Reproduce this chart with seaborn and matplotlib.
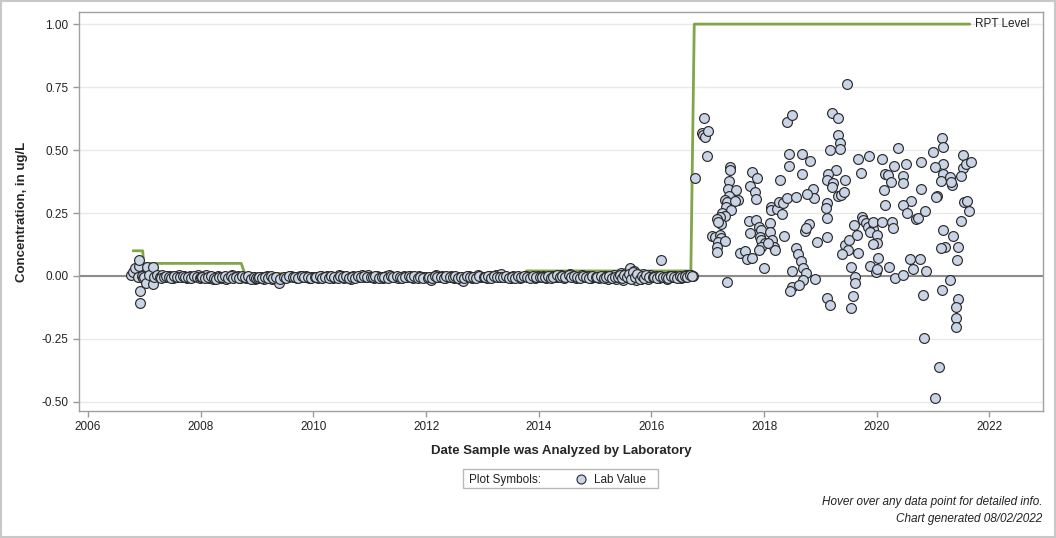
## Lab value time series with RPT level step line
import pandas as pd
import matplotlib.pyplot as plt
import seaborn as sns
from matplotlib.patches import Rectangle
from matplotlib.lines import Line2D

# colors
PT_FACE, PT_EDGE = "#C9D5E6", "#2B2B2B"
RPT_GREEN = "#80A647"
ZERO_GRAY = "#8C8C8C"

## RPT level (step line)
rpt_dates = [2006.80, 2006.97, 2006.99, 2008.72, 2008.78, 2013.76, 2013.78, 2016.70, 2016.76, 2021.65]
rpt_vals = [0.10, 0.10, 0.05, 0.05, 0.01, 0.01, 0.02, 0.02, 1.00, 1.00]

## Lab values, 2006-2016 (mostly around zero)
early_dates = [2006.76, 2006.80, 2006.83, 2006.88, 2006.90, 2006.91, 2006.92, 2006.93, 2006.95, 2006.97,
               2007.00, 2007.03, 2007.04, 2007.08, 2007.15, 2007.15, 2007.18, 2007.22]
early_vals = [0.004, 0.017, 0.030, -0.004, 0.040, 0.063, -0.108, -0.058, 0.000, -0.008,
              -0.004, -0.029, 0.037, 0.002, -0.033, 0.034, -0.006, 0.003]

dates_07 = [2007.27, 2007.31, 2007.36, 2007.40, 2007.46, 2007.51, 2007.55, 2007.61, 2007.66, 2007.70,
            2007.76, 2007.81, 2007.85, 2007.90, 2007.96,
            2007.29, 2007.34, 2007.38, 2007.43, 2007.48, 2007.53, 2007.58, 2007.63, 2007.68, 2007.73,
            2007.78, 2007.83, 2007.88, 2007.93, 2007.98]
vals_07 = [-0.004, 0.002, -0.006, -0.002, 0.001, -0.007, -0.003, 0.003, -0.005, -0.001,
           -0.008, 0.001, -0.004, -0.002, 0.002,
           -0.007, -0.003, 0.001, -0.005, -0.009, -0.002, -0.006, -0.004, 0.000, -0.006,
           -0.003, -0.007, 0.001, -0.005, -0.008]
dates_08 = [2008.01, 2008.06, 2008.10, 2008.15, 2008.21, 2008.25, 2008.30, 2008.36, 2008.41, 2008.45,
            2008.50, 2008.56, 2008.61, 2008.66, 2008.70, 2008.76, 2008.81, 2008.86, 2008.92, 2008.97,
            2008.03, 2008.08, 2008.13, 2008.18, 2008.23, 2008.28, 2008.33, 2008.38, 2008.43, 2008.48,
            2008.53, 2008.58, 2008.63, 2008.68, 2008.73, 2008.79, 2008.84, 2008.89, 2008.94, 2008.99]
vals_08 = [-0.006, -0.002, 0.003, -0.009, -0.012, -0.004, 0.001, -0.007, -0.003, -0.010,
           -0.005, 0.002, -0.006, -0.001, -0.008, -0.004, -0.009, -0.003, -0.006, -0.011,
           -0.003, -0.008, -0.005, -0.001, -0.007, -0.010, -0.003, -0.006, 0.000, -0.008,
           -0.002, -0.009, -0.004, -0.007, -0.001, -0.006, -0.002, -0.010, -0.004, -0.007]
dates_09 = [2009.02, 2009.07, 2009.12, 2009.17, 2009.22, 2009.27, 2009.32, 2009.36, 2009.39, 2009.44,
            2009.50, 2009.55, 2009.60, 2009.66, 2009.71, 2009.76, 2009.82, 2009.87, 2009.93, 2009.98,
            2009.04, 2009.09, 2009.14, 2009.19, 2009.24, 2009.29, 2009.34, 2009.41, 2009.47, 2009.52,
            2009.57, 2009.63, 2009.68, 2009.73, 2009.79, 2009.84, 2009.90, 2009.95]
vals_09 = [-0.008, -0.004, -0.010, -0.002, -0.006, -0.012, -0.005, -0.009, -0.029, -0.007,
           -0.003, -0.006, 0.001, -0.004, -0.008, -0.002, -0.005, 0.000, -0.007, -0.003,
           -0.005, -0.009, -0.003, -0.007, -0.002, -0.008, -0.004, -0.011, -0.005, -0.008,
           -0.002, -0.006, -0.003, -0.009, -0.001, -0.006, -0.004, -0.008]
dates_10 = [2010.03, 2010.08, 2010.14, 2010.19, 2010.24, 2010.29, 2010.35, 2010.40, 2010.46, 2010.50,
            2010.55, 2010.61, 2010.66, 2010.71, 2010.77, 2010.82, 2010.87, 2010.92, 2010.97,
            2010.05, 2010.11, 2010.16, 2010.21, 2010.27, 2010.32, 2010.37, 2010.43, 2010.48, 2010.53,
            2010.58, 2010.63, 2010.69, 2010.74, 2010.79, 2010.84, 2010.90, 2010.95]
vals_10 = [-0.004, -0.008, -0.002, -0.006, 0.001, -0.005, -0.009, -0.003, 0.003, -0.002,
           -0.007, -0.004, -0.010, -0.001, -0.006, -0.003, 0.002, -0.005, 0.004,
           -0.006, -0.002, -0.009, -0.003, -0.007, -0.001, -0.005, -0.008, 0.000, -0.005,
           -0.002, -0.008, -0.004, -0.007, 0.001, -0.006, -0.002, -0.004]
dates_11 = [2011.02, 2011.08, 2011.13, 2011.19, 2011.24, 2011.29, 2011.35, 2011.40, 2011.45, 2011.50,
            2011.56, 2011.61, 2011.66, 2011.71, 2011.77, 2011.82, 2011.87, 2011.93, 2011.98,
            2011.05, 2011.10, 2011.16, 2011.21, 2011.26, 2011.32, 2011.37, 2011.42, 2011.48, 2011.53,
            2011.58, 2011.63, 2011.69, 2011.74, 2011.79, 2011.85, 2011.90, 2011.95]
vals_11 = [-0.003, -0.007, -0.001, -0.005, -0.008, -0.002, 0.002, -0.006, -0.004, -0.009,
           -0.003, 0.001, -0.005, -0.002, -0.007, -0.004, 0.000, -0.006, -0.003,
           -0.006, -0.002, -0.008, -0.003, -0.005, -0.007, -0.002, -0.004, -0.001, -0.006,
           -0.008, -0.003, 0.001, -0.005, -0.002, -0.007, -0.004, -0.008]
dates_12 = [2012.03, 2012.08, 2012.12, 2012.18, 2012.23, 2012.28, 2012.34, 2012.39, 2012.44, 2012.49,
            2012.55, 2012.60, 2012.65, 2012.70, 2012.76, 2012.81, 2012.86, 2012.92, 2012.97,
            2012.05, 2012.10, 2012.15, 2012.20, 2012.26, 2012.31, 2012.36, 2012.42, 2012.47, 2012.52,
            2012.57, 2012.62, 2012.68, 2012.73, 2012.78, 2012.84, 2012.89, 2012.94]
vals_12 = [-0.008, -0.015, -0.004, 0.004, -0.006, -0.002, -0.009, -0.004, 0.001, -0.007,
           -0.003, -0.011, -0.018, -0.005, -0.002, -0.008, -0.004, 0.002, -0.006,
           -0.004, -0.009, 0.001, -0.005, -0.003, -0.007, 0.000, -0.006, -0.004, -0.002,
           -0.008, -0.005, -0.009, -0.001, -0.006, -0.003, -0.007, -0.002]
dates_13 = [2013.02, 2013.08, 2013.13, 2013.18, 2013.24, 2013.29, 2013.33, 2013.39, 2013.45, 2013.50,
            2013.55, 2013.61, 2013.66, 2013.71, 2013.77, 2013.82, 2013.87, 2013.93, 2013.98,
            2013.05, 2013.10, 2013.16, 2013.21, 2013.26, 2013.31, 2013.36, 2013.42, 2013.47, 2013.52,
            2013.58, 2013.63, 2013.68, 2013.74, 2013.79, 2013.84, 2013.90, 2013.95]
vals_13 = [-0.003, -0.007, -0.002, -0.005, 0.002, -0.004, 0.009, -0.006, -0.003, -0.008,
           -0.002, -0.005, -0.009, -0.004, -0.001, -0.006, -0.003, -0.007, -0.002,
           -0.006, -0.002, -0.008, 0.000, -0.006, -0.003, -0.005, 0.001, -0.007, -0.004,
           -0.007, -0.002, -0.006, 0.000, -0.004, -0.008, -0.001, -0.005]
dates_14 = [2014.03, 2014.08, 2014.13, 2014.19, 2014.24, 2014.29, 2014.34, 2014.40, 2014.45, 2014.50,
            2014.55, 2014.61, 2014.66, 2014.71, 2014.76, 2014.82, 2014.87, 2014.92, 2014.97,
            2014.05, 2014.11, 2014.16, 2014.21, 2014.26, 2014.32, 2014.37, 2014.42, 2014.47, 2014.53,
            2014.58, 2014.63, 2014.68, 2014.74, 2014.79, 2014.84, 2014.89, 2014.95]
vals_14 = [-0.006, -0.002, -0.009, -0.004, 0.001, -0.005, -0.003, 0.004, -0.007, -0.002,
           0.006, -0.004, -0.008, -0.003, 0.002, -0.005, -0.001, -0.007, -0.004,
           -0.003, -0.006, -0.001, -0.007, -0.003, 0.002, -0.006, -0.002, -0.004, 0.003,
           -0.006, -0.001, -0.005, -0.007, -0.002, -0.004, -0.008, -0.002]
dates_15 = [2015.02, 2015.07, 2015.12, 2015.18, 2015.23, 2015.28, 2015.33, 2015.38, 2015.42, 2015.46,
            2015.50, 2015.54, 2015.58, 2015.62, 2015.65, 2015.69, 2015.73, 2015.77, 2015.81, 2015.85,
            2015.89, 2015.94, 2015.98,
            2015.04, 2015.10, 2015.15, 2015.20, 2015.25, 2015.30, 2015.35, 2015.40, 2015.44, 2015.48,
            2015.52, 2015.56, 2015.60, 2015.64, 2015.67, 2015.71, 2015.75, 2015.79, 2015.83, 2015.87,
            2015.91, 2015.96]
vals_15 = [-0.003, -0.008, -0.005, -0.002, -0.010, -0.004, 0.003, -0.012, -0.006, 0.010,
           -0.014, 0.012, -0.003, 0.030, -0.008, 0.018, -0.015, 0.004, -0.010, 0.008,
           -0.004, -0.012, 0.002,
           -0.006, -0.002, -0.009, -0.004, 0.001, -0.007, -0.003, -0.005, 0.004, -0.009,
           0.002, -0.006, 0.006, -0.011, 0.014, -0.004, 0.009, -0.012, 0.001, -0.007,
           0.005, -0.003]
dates_16 = [2016.03, 2016.08, 2016.13, 2016.17, 2016.22, 2016.27, 2016.32, 2016.37, 2016.42, 2016.47,
            2016.52, 2016.57, 2016.62, 2016.66, 2016.70, 2016.74,
            2016.05, 2016.10, 2016.15, 2016.20, 2016.25, 2016.30, 2016.35, 2016.40, 2016.45, 2016.50,
            2016.55, 2016.60, 2016.64, 2016.68, 2016.72]
vals_16 = [-0.006, -0.002, -0.008, 0.062, -0.004, -0.010, -0.002, -0.006, 0.001, -0.005,
           -0.009, -0.003, 0.005, -0.002, 0.003, 0.001,
           -0.003, -0.007, -0.001, -0.006, -0.003, -0.008, 0.000, -0.004, -0.007, -0.002,
           -0.006, -0.001, -0.004, 0.002, -0.001]

## Lab values after the RPT change (late 2016 - 2021)
late_dates = [2016.77, 2016.94, 2016.89, 2016.92, 2016.95, 2017.01, 2016.98, 2017.34, 2017.39, 2017.39,
              2017.38, 2017.36, 2017.50, 2017.38, 2017.30, 2017.35, 2017.54, 2017.48, 2017.33, 2017.42,
              2017.26, 2017.30, 2017.22, 2017.16, 2017.23, 2017.19, 2017.07, 2017.13, 2017.22, 2017.24,
              2017.19, 2017.30, 2017.16, 2017.17, 2017.78, 2017.87, 2017.75, 2017.83, 2017.85, 2017.73,
              2017.85, 2017.91, 2017.94, 2017.93, 2017.95, 2018.01, 2017.94, 2017.91, 2017.75, 2017.57,
              2017.66, 2017.69, 2017.78, 2018.00, 2018.11, 2018.11, 2018.14, 2018.18, 2018.19, 2018.07,
              2018.29, 2018.13, 2018.12, 2018.22, 2018.26, 2018.31, 2018.34, 2018.41, 2018.35, 2018.41,
              2018.49, 2018.45, 2018.45, 2018.50, 2018.49, 2018.46,
              2019.47, 2019.21, 2019.32, 2019.32, 2019.35, 2019.35, 2019.17, 2018.67, 2018.82, 2018.67,
              2019.27, 2019.14, 2019.12, 2019.23, 2019.20, 2019.44, 2019.32, 2019.37, 2019.42, 2018.87,
              2018.89, 2018.76, 2018.56, 2019.11, 2019.10, 2019.11, 2018.80, 2018.72, 2018.75, 2018.94,
              2019.11, 2018.57, 2018.60, 2018.65, 2018.69, 2018.74, 2018.69, 2018.62, 2018.90, 2019.11,
              2019.17, 2019.43, 2019.51, 2019.49, 2019.39, 2019.59, 2019.67, 2019.72, 2019.86, 2020.09,
              2020.30, 2020.14, 2020.20, 2020.25, 2020.13, 2020.15, 2019.65, 2019.67, 2019.55, 2019.62,
              2019.62, 2019.57, 2019.54, 2019.73, 2019.76, 2019.81, 2019.85, 2019.93, 2019.88, 2019.94,
              2020.01, 2020.01, 2019.93, 2020.02, 2020.10, 2020.27, 2020.28, 2019.88, 2019.98, 2020.01,
              2020.21, 2020.33, 2020.38,
              2020.52, 2020.78, 2020.47, 2020.47, 2020.79, 2020.60, 2020.47, 2020.53, 2020.69, 2020.74,
              2020.85, 2020.59, 2020.76, 2020.65, 2020.87, 2020.47, 2020.82, 2020.84, 2021.00, 2021.16,
              2021.17, 2021.17, 2021.03, 2021.17, 2021.14, 2021.30, 2021.34, 2021.31, 2021.06, 2021.05,
              2021.53, 2021.53, 2021.59, 2021.67, 2021.49, 2021.55, 2021.60, 2021.64, 2021.50, 2021.17,
              2021.36, 2021.44, 2021.21, 2021.14, 2021.43, 2021.30, 2021.16, 2021.45, 2021.40, 2021.40,
              2021.40, 2021.10, 2021.03]
late_vals = [0.388, 0.626, 0.566, 0.560, 0.553, 0.575, 0.475, -0.024, 0.434, 0.420,
             0.378, 0.345, 0.341, 0.319, 0.300, 0.295, 0.300, 0.297, 0.275, 0.260,
             0.250, 0.240, 0.235, 0.225, 0.206, 0.215, 0.160, 0.156, 0.163, 0.150,
             0.136, 0.138, 0.116, 0.095, 0.413, 0.388, 0.357, 0.335, 0.305, 0.218,
             0.222, 0.196, 0.183, 0.156, 0.143, 0.130, 0.116, 0.103, 0.169, 0.090,
             0.100, 0.066, 0.073, 0.030, 0.209, 0.173, 0.143, 0.116, 0.103, 0.130,
             0.380, 0.275, 0.262, 0.264, 0.295, 0.246, 0.288, 0.308, 0.160, 0.612,
             0.639, 0.483, 0.438, 0.021, -0.042, -0.060,
             0.762, 0.648, 0.626, 0.560, 0.529, 0.504, 0.500, 0.484, 0.456, 0.403,
             0.420, 0.403, 0.381, 0.368, 0.354, 0.381, 0.317, 0.321, 0.335, 0.345,
             0.308, 0.324, 0.315, 0.288, 0.268, 0.231, 0.206, 0.179, 0.189, 0.136,
             0.156, 0.112, 0.087, 0.060, 0.030, 0.011, -0.016, -0.037, -0.012, -0.086,
             -0.116, 0.123, 0.143, 0.103, 0.086, 0.202, 0.463, 0.407, 0.476, 0.463,
             0.436, 0.403, 0.400, 0.374, 0.341, 0.282, 0.163, 0.090, 0.035, -0.005,
             -0.029, -0.079, -0.128, 0.235, 0.222, 0.209, 0.196, 0.185, 0.176, 0.216,
             0.163, 0.130, 0.127, 0.070, 0.216, 0.216, 0.192, 0.040, 0.017, 0.027,
             0.035, -0.009, 0.510,
             0.443, 0.452, 0.397, 0.368, 0.345, 0.299, 0.282, 0.249, 0.225, 0.229,
             0.258, 0.066, 0.066, 0.027, 0.020, 0.004, -0.077, -0.247, 0.493, 0.546,
             0.513, 0.443, 0.431, 0.404, 0.377, 0.392, 0.361, 0.374, 0.317, 0.312,
             0.479, 0.430, 0.443, 0.454, 0.398, 0.295, 0.298, 0.258, 0.218, 0.183,
             0.159, 0.116, 0.116, 0.110, 0.063, -0.016, -0.056, -0.091, -0.124, -0.168,
             -0.204, -0.360, -0.485]

x_ticks = [2006, 2008, 2010, 2012, 2014, 2016, 2018, 2020, 2022]
y_ticks = [-0.50, -0.25, 0.00, 0.25, 0.50, 0.75, 1.00]

all_dates = (early_dates + dates_07 + dates_08 + dates_09 + dates_10 + dates_11 + dates_12
             + dates_13 + dates_14 + dates_15 + dates_16 + late_dates)
all_vals = (early_vals + vals_07 + vals_08 + vals_09 + vals_10 + vals_11 + vals_12
            + vals_13 + vals_14 + vals_15 + vals_16 + late_vals)
lab = pd.DataFrame({"date": all_dates, "value": all_vals})
rpt = pd.DataFrame({"date": rpt_dates, "value": rpt_vals})

sns.set_style("white")
plt.rcParams["font.family"] = ["Liberation Sans", "DejaVu Sans"]

fig = plt.figure(figsize=(10.56, 5.38), dpi=100)
ax = fig.add_axes([79 / 1056, 1 - 411 / 538, (1043 - 79) / 1056, (411 - 12) / 538])

# grid + zero reference
for yv in y_ticks:
    ax.axhline(yv, color="#E9E9E9", lw=1.0, zorder=0)
ax.axhline(0, color=ZERO_GRAY, lw=1.5, zorder=1)

sns.lineplot(data=rpt, x="date", y="value", estimator=None, sort=False,
             color=RPT_GREEN, lw=2.0, ax=ax, zorder=2)
sns.scatterplot(data=lab, x="date", y="value", s=50, color=PT_FACE,
                edgecolor=PT_EDGE, linewidth=0.85, ax=ax, zorder=3)
ax.text(2021.74, 1.0, "RPT Level", fontsize=8.5, va="center", ha="left", color="#222222")

ax.set_xlim(2005.84, 2022.95)
ax.set_ylim(-0.536, 1.048)
ax.set_xticks(x_ticks)
ax.set_yticks(y_ticks)
ax.set_yticklabels([f"{v:.2f}" for v in y_ticks])
ax.tick_params(axis="both", direction="out", length=4, width=1, color="#9A9A9A",
               labelsize=8.5, labelcolor="#222222", left=True, bottom=True)
for sp in ax.spines.values():
    sp.set_color("#A0A0A0")
    sp.set_linewidth(1.0)

ax.set_xlabel("Date Sample was Analyzed by Laboratory", fontsize=9.5, fontweight="bold", labelpad=8)
ax.set_ylabel("Concentration, in ug/L", fontsize=9.5, fontweight="bold", labelpad=10)

# legend box
fig.add_artist(Rectangle((463 / 1056, 1 - 488 / 538), 195 / 1056, 19 / 538, transform=fig.transFigure,
                         fill=False, edgecolor="#B8B8B8", lw=1.0))
ly = 1 - 478.5 / 538
fig.text(469 / 1056, ly, "Plot Symbols:", fontsize=8.5, va="center_baseline", ha="left", color="#222222")
fig.add_artist(Line2D([581 / 1056], [ly], transform=fig.transFigure, marker="o", ms=6.5,
                      markerfacecolor=PT_FACE, markeredgecolor=PT_EDGE, markeredgewidth=0.8, ls="none"))
fig.text(594 / 1056, ly, "Lab Value", fontsize=8.5, va="center_baseline", ha="left", color="#222222")

# footnotes
fig.text(1042 / 1056, 1 - 502 / 538, "Hover over any data point for detailed info.", fontsize=8.5,
         style="italic", ha="right", va="center", color="#222222")
fig.text(1042 / 1056, 1 - 519 / 538, "Chart generated 08/02/2022", fontsize=8.5,
         style="italic", ha="right", va="center", color="#222222")

# outer frame
fig.add_artist(Rectangle((0.001, 0.002), 0.998, 0.996, transform=fig.transFigure,
                         fill=False, edgecolor="#C8C8C8", lw=1.5))

plt.savefig("out.png", dpi=100)
